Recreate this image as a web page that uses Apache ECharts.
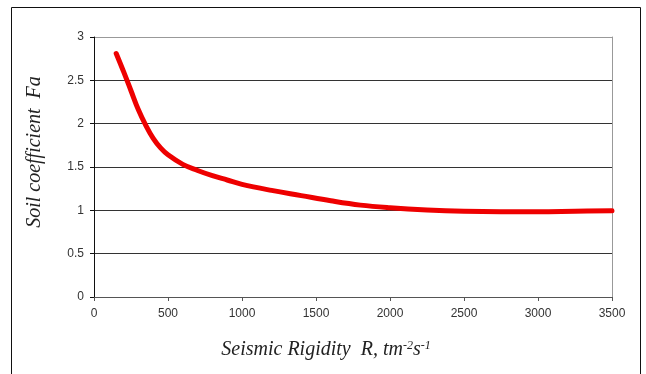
<!DOCTYPE html>
<html>
<head>
<meta charset="utf-8">
<script src="https://cdn.jsdelivr.net/npm/echarts@6/dist/echarts.min.js"></script>
<style>html,body{margin:0;padding:0;background:#fff}#c{width:646px;height:374px}</style>
</head>
<body>
<div id="c"></div>
<script>
const rigidity = [150, 200, 250, 300, 350, 400, 450, 500, 600, 700, 800, 900, 1000, 1200, 1400, 1600, 1800, 2000, 2250, 2500, 2750, 3000, 3250, 3500];
const soilCoeff = [2.81, 2.60, 2.38, 2.16, 1.98, 1.83, 1.72, 1.64, 1.53, 1.46, 1.40, 1.35, 1.30, 1.23, 1.17, 1.11, 1.06, 1.03, 1.005, 0.99, 0.985, 0.985, 0.99, 0.995];
const xTicks = [0, 500, 1000, 1500, 2000, 2500, 3000, 3500];
const yTicks = [0, 0.5, 1, 1.5, 2, 2.5, 3];

const chart = echarts.init(document.getElementById('c'));
const labelFont = {fontFamily: 'Liberation Sans, Arial, sans-serif', fontSize: 12, color: '#333'};
const titleFont = 'italic 20px "Liberation Serif", "Times New Roman", serif';
chart.setOption({
  backgroundColor: '#fff',
  animation: false,
  grid: {left: 94, right: 34, top: 37, bottom: 77},
  xAxis: {
    type: 'value', min: xTicks[0], max: xTicks[xTicks.length - 1], interval: 500,
    axisLine: {show: true, lineStyle: {color: '#555', width: 1}},
    axisTick: {show: true, inside: false, length: 4, lineStyle: {color: '#555'}},
    axisLabel: Object.assign({margin: 11, formatter: v => String(v)}, labelFont),
    splitLine: {show: false}
  },
  yAxis: [{
    type: 'value', min: yTicks[0], max: yTicks[yTicks.length - 1], interval: 0.5,
    axisLine: {show: true, lineStyle: {color: '#111', width: 1}},
    axisTick: {show: true, inside: false, length: 4, lineStyle: {color: '#111'}},
    axisLabel: Object.assign({margin: 10, formatter: v => String(v)}, labelFont),
    splitLine: {show: true, lineStyle: {color: ['#333', '#333', '#333', '#333', '#333', '#333', '#999'], width: 1}}
  }, {
    type: 'value', position: 'right', min: 0, max: 3, interval: 0.5,
    axisLine: {show: true, lineStyle: {color: '#999', width: 1}},
    axisTick: {show: false}, axisLabel: {show: false}, splitLine: {show: false}
  }],
  series: [{
    type: 'line',
    data: rigidity.map((r, i) => [r, soilCoeff[i]]),
    smooth: 0.4,
    showSymbol: false,
    lineStyle: {color: '#ee0000', width: 5, cap: 'round'}
  }],
  graphic: [
    {type: 'rect', shape: {x: 11.5, y: 7.5, width: 629, height: 380}, style: {fill: 'none', stroke: '#111', lineWidth: 1}, silent: true},
    {type: 'text', x: 35, y: 152, rotation: Math.PI / 2,
     style: {text: 'Soil coefficient  Fa', font: titleFont, fill: '#222', align: 'center', verticalAlign: 'middle'}},
    {type: 'text', x: 326, y: 350,
     style: {
       text: '{a|Seismic Rigidity  R, tm}{s|-2}{a|s}{s|-1}',
       align: 'center', verticalAlign: 'middle',
       rich: {
         a: {font: titleFont, fill: '#222', lineHeight: 20, verticalAlign: 'bottom'},
         s: {font: 'italic 12px "Liberation Serif", "Times New Roman", serif', fill: '#222', lineHeight: 12, verticalAlign: 'top'}
       }
     }}
  ]
});
</script>
</body>
</html>
